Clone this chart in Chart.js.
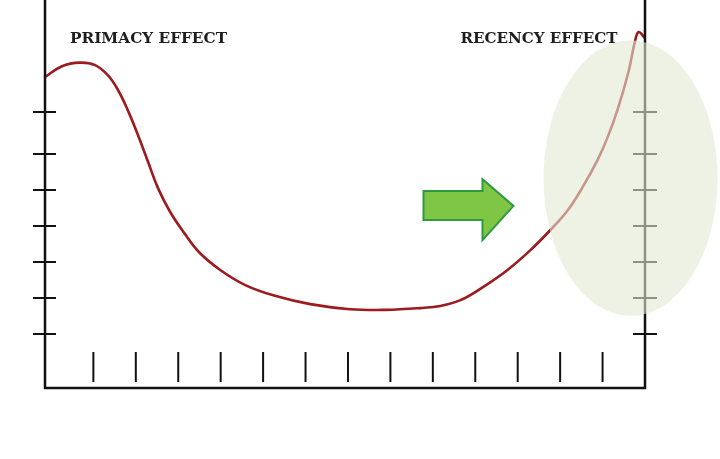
<!DOCTYPE html>
<html>
<head>
<meta charset="utf-8">
<script src="https://cdn.jsdelivr.net/npm/chart.js@4.4.1/dist/chart.umd.min.js"></script>
<style>
  html, body { margin: 0; padding: 0; background: #fff; }
  #wrap { width: 720px; height: 459px; }
</style>
</head>
<body>
<div id="wrap"><canvas id="curve"></canvas></div>
<script>
// serial position (x) and recall (y)
var position = [-0.14, 0.26, 0.68, 1.04, 1.34, 1.58, 1.81, 2.05, 2.29, 2.52, 2.81, 3.14, 3.51, 3.99,
                4.58, 5.28, 6.11, 7.05, 7.88, 8.71, 9.18, 9.65, 10.19, 10.76, 11.30, 11.77, 12.18,
                12.53, 12.88, 13.12, 13.35, 13.61, 13.76, 13.85, 14.0];
var recall = [81.4, 84.4, 85.4, 84.7, 81.9, 77.8, 72.2, 65.3, 57.8, 50.6, 43.9, 38.1, 32.5, 27.8,
              23.6, 20.6, 18.3, 16.9, 16.7, 17.2, 17.8, 19.4, 23.1, 27.8, 33.3, 38.9, 44.4,
              50.8, 58.3, 64.7, 72.2, 82.8, 91.1, 93.9, 92.2];

// tick marks on the axes (no labels in the original)
var xTicks = [1, 2, 3, 4, 5, 6, 7, 8, 9, 10, 11, 12, 13];
var yTicks = [10, 20, 30, 40, 50, 60, 71.7];

// annotations
var labels = [
    { text: 'PRIMACY EFFECT', x: 0.45, y: 90.8 },
    { text: 'RECENCY EFFECT', x: 9.65, y: 90.8 }
];
var highlight = { x: 13.66, y: 53.3, rx: 2.05, ry: 38.3 };   // recency ellipse
var arrow = { x0: 8.78, x1: 10.90, head: 10.17, shaft: [41.7, 49.7], tip: 45.6, wing: [36.1, 53.0] };

var data = position.map(function (p, i) { return { x: p, y: recall[i] }; });

var decor = {
    id: 'decor',
    afterDatasetsDraw: function (chart) {
        var ctx = chart.ctx, a = chart.chartArea;
        var xs = chart.scales.x, ys = chart.scales.y;
        ctx.save();

        // axes
        ctx.strokeStyle = '#111';
        ctx.lineWidth = 2.5;
        ctx.beginPath();
        ctx.moveTo(a.left, a.top);
        ctx.lineTo(a.left, a.bottom);
        ctx.lineTo(a.right, a.bottom);
        ctx.lineTo(a.right, a.top);
        ctx.stroke();

        // y ticks, crossing both side axes
        ctx.lineWidth = 2;
        yTicks.forEach(function (v) {
            var py = ys.getPixelForValue(v);
            ctx.beginPath();
            ctx.moveTo(a.left - 12, py); ctx.lineTo(a.left + 11, py);
            ctx.moveTo(a.right - 12, py); ctx.lineTo(a.right + 12, py);
            ctx.stroke();
        });
        // x ticks, standing inside the plot
        xTicks.forEach(function (v) {
            var px = xs.getPixelForValue(v);
            ctx.beginPath();
            ctx.moveTo(px, a.bottom - 36); ctx.lineTo(px, a.bottom - 6);
            ctx.stroke();
        });

        // labels
        ctx.fillStyle = '#1e1e1e';
        ctx.font = 'bold 15.5px "DejaVu Serif"';
        ctx.textBaseline = 'alphabetic';
        labels.forEach(function (l) {
            ctx.fillText(l.text, xs.getPixelForValue(l.x), ys.getPixelForValue(l.y), 157);
        });

        // green arrow
        var X = function (v) { return xs.getPixelForValue(v); };
        var Y = function (v) { return ys.getPixelForValue(v); };
        ctx.beginPath();
        ctx.moveTo(X(arrow.x0), Y(arrow.shaft[1]));
        ctx.lineTo(X(arrow.head), Y(arrow.shaft[1]));
        ctx.lineTo(X(arrow.head), Y(arrow.wing[1]));
        ctx.lineTo(X(arrow.x1), Y(arrow.tip));
        ctx.lineTo(X(arrow.head), Y(arrow.wing[0]));
        ctx.lineTo(X(arrow.head), Y(arrow.shaft[0]));
        ctx.lineTo(X(arrow.x0), Y(arrow.shaft[0]));
        ctx.closePath();
        ctx.fillStyle = '#80c645';
        ctx.fill();
        ctx.strokeStyle = '#2f9a40';
        ctx.lineWidth = 2;
        ctx.stroke();

        // translucent recency ellipse over curve and axis
        var cx = X(highlight.x), cy = Y(highlight.y);
        var rx = X(highlight.x + highlight.rx) - cx;
        var ry = cy - Y(highlight.y + highlight.ry);
        ctx.beginPath();
        ctx.ellipse(cx, cy, rx, ry, 0, 0, Math.PI * 2);
        ctx.fillStyle = 'rgba(226, 234, 211, 0.6)';
        ctx.fill();

        ctx.restore();
    }
};

new Chart(document.getElementById('curve'), {
    type: 'line',
    data: {
        datasets: [{
            data: data,
            borderColor: '#9b1b1f',
            borderWidth: 2.6,
            pointRadius: 0,
            tension: 0.4,
            fill: false,
            clip: false
        }]
    },
    options: {
        responsive: true,
        maintainAspectRatio: false,
        animation: false,
        events: [],
        layout: { padding: { left: 45, right: 75, top: 0, bottom: 71 } },
        plugins: { legend: { display: false }, tooltip: { enabled: false } },
        scales: {
            x: { type: 'linear', min: -0.14, max: 14, display: false },
            y: { type: 'linear', min: -5, max: 102.8, display: false }
        }
    },
    plugins: [decor]
});
</script>
</body>
</html>
